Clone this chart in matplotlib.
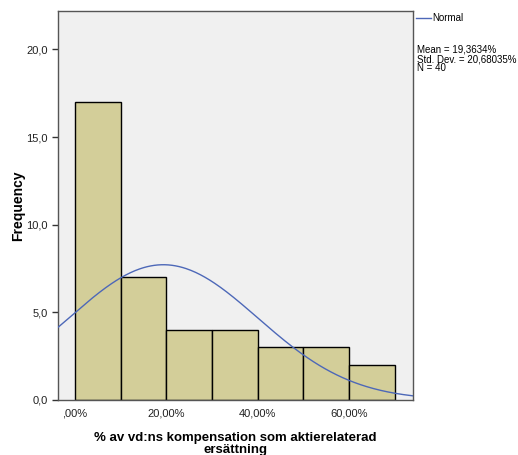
import matplotlib.pyplot as plt
import numpy as np
from matplotlib.ticker import FuncFormatter

plt.rcParams['font.family'] = ['Liberation Sans', 'DejaVu Sans']

# histogram counts per 10%-bin
bin_edges = [0, 10, 20, 30, 40, 50, 60, 70]
counts = [17, 7, 4, 4, 3, 3, 2]
mean = 19.3634
std = 20.68035
n = 40

x_ticks = [0, 20, 40, 60]
y_ticks = [0, 5, 10, 15, 20]

fig = plt.figure(figsize=(5.18, 4.55), dpi=100)
ax = fig.add_axes([0.112, 0.121, 0.685, 0.855])
ax.set_facecolor("#F0F0F0")

widths = np.diff(bin_edges)
ax.bar(bin_edges[:-1], counts, width=widths, align="edge",
       color="#D3CE99", edgecolor="black", linewidth=1.0, zorder=2)

# fitted normal curve scaled to counts
xmin, xmax = -3.7, 74.0
xs = np.linspace(xmin, xmax, 300)
binw = widths[0]
ys = n * binw * np.exp(-0.5 * ((xs - mean) / std) ** 2) / (std * np.sqrt(2 * np.pi))
ax.plot(xs, ys, color="#4D68B8", linewidth=1.0, zorder=3)

ax.set_xlim(xmin, xmax)
ax.set_ylim(0, 22.2)
ax.set_xticks(x_ticks)
ax.set_yticks(y_ticks)
ax.xaxis.set_major_formatter(FuncFormatter(
    lambda v, p: ",00%" if v == 0 else ("%.2f%%" % v).replace(".", ",")))
ax.yaxis.set_major_formatter(FuncFormatter(lambda v, p: ("%.1f" % v).replace(".", ",")))
ax.tick_params(axis="both", labelsize=8, colors="#333333", labelcolor="#222222",
               length=4, width=1)
ax.tick_params(axis="x", length=0, pad=6)
for s in ax.spines.values():
    s.set_color("#555555")
    s.set_linewidth(1.0)

ax.set_ylabel("Frequency", fontsize=10, fontweight="bold", va="center")
ax.yaxis.set_label_coords(-0.113, 0.5)
ax.set_xlabel("% av vd:ns kompensation som aktierelaterad\nersättning",
              fontsize=9.5, fontweight="bold", linespacing=0.95, labelpad=10)

# legend and summary statistics on the right
fig.lines.append(plt.Line2D([416 / 518, 431 / 518], [1 - 18 / 455, 1 - 18 / 455],
                            color="#4D68B8", linewidth=1.0, transform=fig.transFigure))
fig.text(432 / 518, 1 - 18 / 455, "Normal", fontsize=7, va="center")
fig.text(417 / 518, 1 - 45 / 455,
         "Mean = 19,3634%\nStd. Dev. = 20,68035%\nN = 40",
         fontsize=7, va="top", linespacing=0.9)

fig.savefig("out.png", dpi=100)
